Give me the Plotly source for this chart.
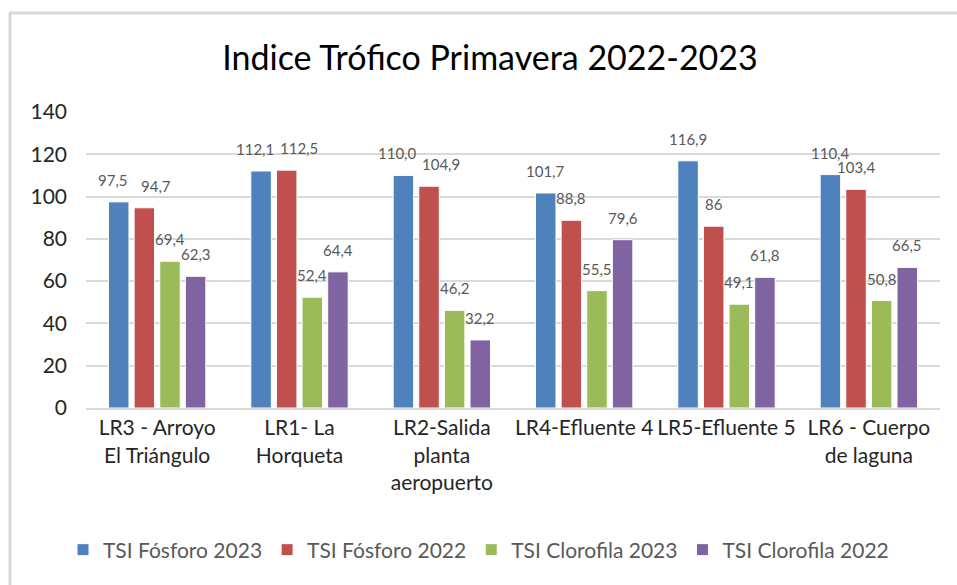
import plotly.graph_objects as go

# Sites (category labels, wrapped like the original)
sites = [
  "LR3 - Arroyo<br>El Triángulo",
  "LR1- La<br>Horqueta",
  "LR2-Salida<br>planta<br>aeropuerto",
  "LR4-Efluente 4",
  "LR5-Efluente 5",
  "LR6 - Cuerpo<br>de laguna",
]

# TSI values per series
tsi_fosforo_2023 = [97.5, 112.1, 110.0, 101.7, 116.9, 110.4]
tsi_fosforo_2022 = [94.7, 112.5, 104.9, 88.8, 86, 103.4]
tsi_clorofila_2023 = [69.4, 52.4, 46.2, 55.5, 49.1, 50.8]
tsi_clorofila_2022 = [62.3, 64.4, 32.2, 79.6, 61.8, 66.5]

series_names = ["TSI Fósforo 2023", "TSI Fósforo 2022", "TSI Clorofila 2023", "TSI Clorofila 2022"]
colors = ["#4F81BD", "#C0504D", "#9BBB59", "#8064A2"]

y_ticks = [0, 20, 40, 60, 80, 100, 120, 140]

FONT = "Lato"

def fmt(v):
  # ints show bare, floats with one decimal and comma separator
  if isinstance(v, int):
    return str(v)
  return f"{v:.1f}".replace(".", ",")

# plot area geometry in pixels
W, H = 957, 585
L, R, T, B = 86, 17, 112, 177
pw, ph = W - L - R, H - T - B
BARGAP = 0.28

def px_x(p):
  return (p - L) / pw

def px_y(p):
  return (H - B - p) / ph

all_series = [tsi_fosforo_2023, tsi_fosforo_2022, tsi_clorofila_2023, tsi_clorofila_2022]

fig = go.Figure()
for name, vals, col in zip(series_names, all_series, colors):
  fig.add_trace(go.Bar(
    x=sites, y=vals, name=name,
    marker=dict(color=col, line=dict(color="white", width=1)),
  ))

# data labels as annotations so crowded neighbours can be nudged apart
slot = pw / len(sites) * (1 - BARGAP) / len(all_series)
for c, site in enumerate(sites):
  shifts = [0.0] * len(all_series)
  for s in range(1, len(all_series)):
    if abs(all_series[s][c] - all_series[s - 1][c]) < 6:
      shifts[s - 1] -= 6
      shifts[s] += 12
  for s, vals in enumerate(all_series):
    fig.add_annotation(
      x=site, y=vals[c], text=fmt(vals[c]), showarrow=False,
      xanchor="center", yanchor="bottom",
      xshift=(s - (len(all_series) - 1) / 2) * slot + shifts[s], yshift=11,
      font=dict(family=FONT, size=15, color="#595959"),
    )

fig.update_layout(
  width=W, height=H,
  margin=dict(l=L, r=R, t=T, b=B),
  paper_bgcolor="white", plot_bgcolor="white",
  font=dict(family=FONT, color="#262626"),
  title=dict(text="Indice Trófico Primavera 2022-2023", x=490 / W, xref="container",
             xanchor="center", y=1 - 58 / H, yanchor="middle",
             font=dict(family=FONT, size=34, color="#000000")),
  barmode="group", bargap=BARGAP, bargroupgap=0.2,
  showlegend=True,
  legend=dict(orientation="h", x=0.5, xref="container", xanchor="center",
              y=1 - 550 / H, yref="container", yanchor="middle",
              font=dict(family=FONT, size=21, color="#595959"),
              itemwidth=30, traceorder="normal"),
  yaxis=dict(range=[0, 140], tickvals=y_ticks, showgrid=True, gridcolor="#D9D9D9",
             gridwidth=2, zeroline=False, showline=False, ticks="",
             ticklabelstandoff=18,
             tickfont=dict(family=FONT, size=21, color="#262626")),
  xaxis=dict(showline=True, linecolor="#D9D9D9", linewidth=2, ticks="",
             tickfont=dict(family=FONT, size=21, color="#262626")),
  shapes=[
    # outer chart frame (top and left edges visible)
    dict(type="line", xref="paper", yref="paper", x0=px_x(9), x1=px_x(960),
         y0=px_y(13), y1=px_y(13), line=dict(color="#D9D9D9", width=3)),
    dict(type="line", xref="paper", yref="paper", x0=px_x(10), x1=px_x(10),
         y0=px_y(13), y1=px_y(590), line=dict(color="#D9D9D9", width=3)),
  ],
)

fig.write_html("out.html", config={"displayModeBar": False},
               post_script="document.body.style.margin='0';document.body.style.overflow='hidden';")
